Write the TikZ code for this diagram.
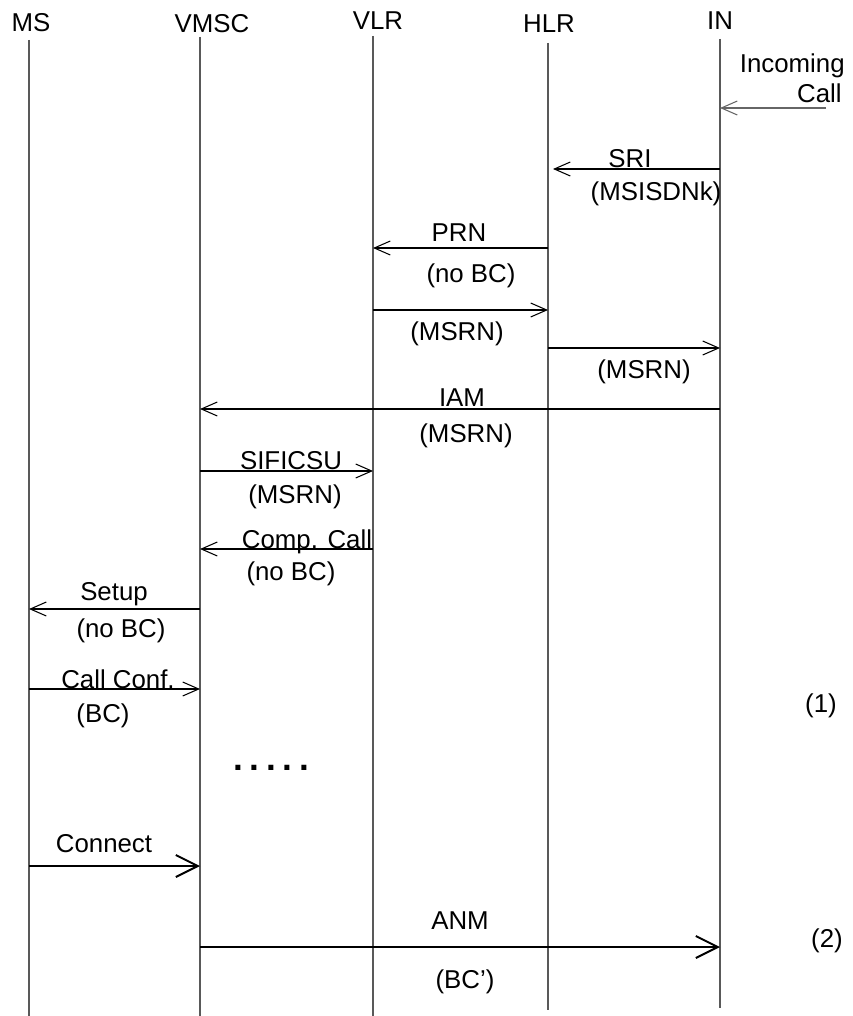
\documentclass[tikz,border=0pt]{standalone}
\usepackage{fontspec}
\setmainfont{Liberation Sans}
\usetikzlibrary{arrows.meta}

\begin{document}
\begin{tikzpicture}[x=0.02cm, y=-0.02cm,
    >={Straight Barb[length=0.32cm, width=0.28cm]},
    every node/.style={font=\fontsize{14.7}{17}\selectfont, inner sep=0pt},
    lbl/.style={anchor=base},
    life/.style={draw=black!65, line width=0.6pt},
    msg/.style={->, line width=0.6pt},
    bigmsg/.style={-{Straight Barb[length=0.44cm, width=0.44cm]}, line width=1.1pt}]

    \useasboundingbox (0,0) rectangle (852,1016);

    % lifelines
    \foreach \n/\x/\top/\bot in {ms/29/40/1016, vmsc/200/37/1016, vlr/373/36/1016, hlr/548/43/1010, netin/720/39/1008} {
        \coordinate (\n) at (\x,\top);
        \coordinate (\n-end) at (\x,\bot);
        \draw[life] (\n) -- (\n-end);
    }
    \foreach \n/\x/\y/\lab in {ms/31/32/MS, vmsc/212/33/VMSC, vlr/378/30/VLR, hlr/549/33/HLR, netin/720/30/IN} {
        \node[lbl] (\n-head) at (\x,\y) {\lab};
    }

    % incoming call
    \coordinate (caller) at (826,108);
    \draw[msg, draw=black!60] (caller) -- (netin |- caller);
    \node[anchor=base east] (incoming) at (845,73) {Incoming};
    \node[anchor=base east] (call) at (842,103) {Call};

    % routing
    \draw[msg, shorten >=0.1cm] (netin |- 0,169) -- (hlr |- 0,169);
    \node[lbl] (sri) at (630,168) {SRI};
    \node[lbl] (sri-arg) at (656,201) {(MSISDNk)};

    \draw[msg] (hlr |- 0,248) -- (vlr |- 0,248);
    \node[lbl] (prn) at (459,242) {PRN};
    \node[lbl] (prn-arg) at (471,283) {(no BC)};

    \draw[msg] (vlr |- 0,310) -- (hlr |- 0,310);
    \node[lbl] (prn-ack) at (457,340) {(MSRN)};

    \draw[msg] (hlr |- 0,348) -- (netin |- 0,348);
    \node[lbl] (sri-ack) at (644,378) {(MSRN)};

    \draw[msg] (netin |- 0,409) -- (vmsc |- 0,409);
    \node[lbl] (iam) at (462,406) {IAM};
    \node[lbl] (iam-arg) at (466,442) {(MSRN)};

    % call setup
    \draw[msg] (vmsc |- 0,471) -- (vlr |- 0,471);
    \node[lbl] (sific) at (291,469) {SIFICSU};
    \node[lbl] (sific-arg) at (295,503) {(MSRN)};

    \draw[msg] (vlr |- 0,549) -- (vmsc |- 0,549);
    \node[lbl] (comp) at (307,548) {Comp. Call};
    \node[lbl] (comp-arg) at (291,580) {(no BC)};

    \draw[msg] (vmsc |- 0,609) -- (ms |- 0,609);
    \node[lbl] (setup) at (114,600) {Setup};
    \node[lbl] (setup-arg) at (121,637) {(no BC)};

    \draw[msg] (ms |- 0,689) -- (vmsc |- 0,689);
    \node[lbl] (conf) at (118,688) {Call Conf.};
    \node[lbl] (conf-arg) at (103,722) {(BC)};
    \node[lbl] (step1) at (821,712) {(1)};

    \node[lbl, font=\fontsize{20}{22}\selectfont\bfseries] (dots) at (271,770) {.\hspace{0.134cm}.\hspace{0.134cm}.\hspace{0.134cm}.\hspace{0.134cm}.};

    % answer
    \draw[bigmsg] (ms |- 0,866) -- (vmsc |- 0,866);
    \node[lbl] (connect) at (104,852) {Connect};

    \draw[bigmsg] (vmsc |- 0,947) -- (netin |- 0,947);
    \node[lbl] (anm) at (460,929) {ANM};
    \node[lbl] (anm-arg) at (465,988) {(BC')};
    \node[lbl] (step2) at (827,947) {(2)};
\end{tikzpicture}
\end{document}
